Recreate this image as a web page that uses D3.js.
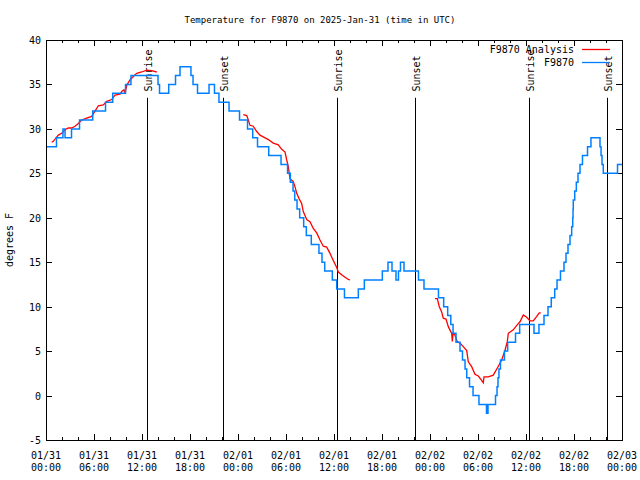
<!DOCTYPE html>
<html>
<head>
<meta charset="utf-8">
<script src="https://cdn.jsdelivr.net/npm/d3@7"></script>
<style>
  html, body { margin: 0; padding: 0; background: #fff; }
  svg { display: block; }
  text { font-family: "DejaVu Sans Mono", monospace; font-size: 10px; fill: #000; }
</style>
</head>
<body>
<svg id="chart" width="640" height="480"></svg>
<script>
// ---- data (hours since 2025-01-31 00:00 UTC) ----
const titleText = "Temperature for F9870 on 2025-Jan-31 (time in UTC)";
const yLabel = "degrees F";
const yTicks = [-5, 0, 5, 10, 15, 20, 25, 30, 35, 40];

// F9870 observations (stepped)
const obsHours = [0.00,1.31,2.12,2.38,3.19,4.19,5.84,7.44,8.34,9.94,10.62,14.0,14.19,15.34,16.19,16.75,18.12,18.38,18.94,20.38,21.06,21.62,22.88,24.19,25.19,25.84,26.44,27.84,29.38,30.19,30.54,30.88,31.09,31.38,31.71,32.21,32.54,33.16,34.12,34.5,34.84,35.79,36.34,37.31,39.04,39.79,42.04,42.75,43.25,43.75,44.06,44.31,44.75,46.56,47.25,49.06,49.71,50.21,50.6,50.88,51.25,51.75,52.06,52.38,52.59,52.94,53.38,54.12,55.06,55.25,56.19,56.38,56.5,56.62,56.81,57.31,57.71,58.69,59.21,61.0,61.62,62.25,62.75,63.16,63.59,63.88,64.31,64.75,65.0,65.25,65.5,65.71,65.84,65.88,65.91,66.09,66.29,66.5,66.75,67.06,67.69,68.12,69.25,69.38,69.5,69.66,71.44,72.0];
const obsTemps = [28,29,30,29,30,31,32,33,34,35,36,35,34,35,36,37,36,35,34,35,34,33,32,31,30,29,28,27,26,25,24,23,22,21,20,19,18,17,16,15,14,13,12,11,12,13,14,15,14,13,14,15,14,13,12,11,10,9,8,7,6,5,4,3,2,1,0,-1,-2,-1,0,1,2,3,4,5,6,7,8,7,8,9,10,11,12,13,14,15,16,17,18,19,20,21,22,23,24,25,26,27,28,29,28,27,26,25,26,26];

// F9870 Analysis (null = gap)
const anaHours = [0.71,0.91,1.54,1.96,2.38,2.79,3.21,3.62,4.04,4.46,5.09,5.71,6.12,6.54,7.16,7.59,8.21,8.62,9.25,9.46,9.75,9.88,10.09,10.5,10.91,11.34,11.96,12.59,13.21,13.84,
  null,
  24.66,25.09,25.29,25.5,25.91,26.34,26.75,27.16,27.79,28.41,29.04,29.46,29.88,30.09,30.29,30.5,30.91,31.12,31.34,31.66,31.96,32.16,32.59,33.0,33.41,33.84,34.25,34.66,35.09,35.5,35.91,36.34,36.54,36.96,37.38,37.79,38.0,
  null,
  48.62,48.91,49.16,49.46,49.66,50.0,50.29,50.71,50.79,50.88,51.12,51.41,51.75,52.16,52.59,52.79,53.21,53.62,54.04,54.38,54.66,54.75,55.29,55.91,56.54,56.96,57.38,57.66,57.79,58.41,58.84,59.25,59.66,60.09,60.5,60.91,61.34,61.66,61.84];
const anaTemps = [28.5,28.6,29.3,29.5,29.9,30.1,30.1,30.3,30.6,31.0,31.2,31.4,32.0,32.6,32.7,33.1,33.3,33.8,33.9,34.2,34.4,34.0,34.9,35.5,35.9,36.25,36.4,36.6,36.55,36.4,
  null,
  31.6,31.5,31.0,30.4,30.3,29.7,29.3,29.1,28.8,28.4,28.2,27.7,27.4,26.5,25.75,24.4,24.06,23.5,22.75,22.1,21.6,20.7,19.8,19.56,18.8,18.3,17.5,16.8,16.7,16.0,15.2,14.4,13.9,13.6,13.3,13.06,13.0,
  null,
  10.9,10.9,10.0,9.4,8.7,8.6,7.75,7.0,6.1,7.0,6.8,6.06,5.9,5.5,5.06,3.8,3.25,2.4,2.2,1.8,1.45,2.1,2.1,2.3,3.3,4.0,5.1,6.06,7.0,7.4,7.9,8.3,9.06,8.8,8.4,8.4,8.9,9.3,9.3];

// Sun events
const sunHours = [12.6, 22.1, 36.4, 46.1, 60.4, 70.1];
const sunLabels = ["Sunrise", "Sunset", "Sunrise", "Sunset", "Sunrise", "Sunset"];

const seriesNames = ["F9870 Analysis", "F9870"];
const seriesColors = ["#ff0000", "#0080ff"];

// ---- drawing ----
const startMs = Date.UTC(2025, 0, 31, 0, 0);
const toDate = h => new Date(startMs + h * 3600000);

const svg = d3.select("#chart");
const L = 46, R = 622, T = 40, B = 440;

const x = d3.scaleUtc()
  .domain([toDate(0), toDate(72)])
  .range([L, R]);
const y = d3.scaleLinear().domain([-5, 40]).range([B, T]);

// title
svg.append("text")
  .attr("x", 320).attr("y", 23)
  .attr("text-anchor", "middle")
  .style("font-size", "9px")
  .text(titleText);

// y label
svg.append("text")
  .attr("transform", `translate(13,${(T + B) / 2}) rotate(-90)`)
  .attr("text-anchor", "middle")
  .text(yLabel);

const g = svg.append("g");

// ticks
const majorTicks = d3.utcHour.every(6).range(toDate(0), toDate(72.01));
const minorTicks = d3.utcHour.every(2).range(toDate(0), toDate(72.01));
const fmtDay = d3.utcFormat("%m/%d");
const fmtTime = d3.utcFormat("%H:%M");

minorTicks.forEach(d => {
  const xx = Math.round(x(d)) + 0.5;
  g.append("line").attr("x1", xx).attr("x2", xx).attr("y1", B).attr("y2", B - 3).attr("stroke", "#000");
  g.append("line").attr("x1", xx).attr("x2", xx).attr("y1", T).attr("y2", T + 3).attr("stroke", "#000");
});
majorTicks.forEach(d => {
  const xx = Math.round(x(d)) + 0.5;
  g.append("line").attr("x1", xx).attr("x2", xx).attr("y1", B).attr("y2", B - 6).attr("stroke", "#000");
  g.append("line").attr("x1", xx).attr("x2", xx).attr("y1", T).attr("y2", T + 6).attr("stroke", "#000");
  const t = g.append("text").attr("text-anchor", "middle");
  t.append("tspan").attr("x", x(d)).attr("y", 459).text(fmtDay(d));
  t.append("tspan").attr("x", x(d)).attr("y", 471).text(fmtTime(d));
});

yTicks.forEach(v => {
  const yy = Math.round(y(v)) + 0.5;
  g.append("line").attr("x1", L).attr("x2", L + 6).attr("y1", yy).attr("y2", yy).attr("stroke", "#000");
  g.append("line").attr("x1", R).attr("x2", R - 6).attr("y1", yy).attr("y2", yy).attr("stroke", "#000");
  g.append("text").attr("x", 41).attr("y", y(v) + 4).attr("text-anchor", "end").text(v);
});

// sun lines
sunHours.forEach((h, i) => {
  const xx = Math.round(x(toDate(h))) + 0.5;
  g.append("line").attr("x1", xx).attr("x2", xx)
    .attr("y1", y(-5)).attr("y2", y(33.5))
    .attr("stroke", "#000").attr("stroke-width", 1);
  g.append("text")
    .attr("transform", `translate(${xx + 4},${y(34.2)}) rotate(-90)`)
    .attr("text-anchor", "start")
    .text(sunLabels[i]);
});

// series
const obs = obsHours.map((h, i) => [h, obsTemps[i]]);
const ana = anaHours.map((h, i) => [h, anaTemps[i]]);

const lineObs = d3.line()
  .x(d => x(toDate(d[0])))
  .y(d => y(d[1]))
  .curve(d3.curveStepAfter);
const lineAna = d3.line()
  .defined(d => d[0] !== null && d[1] !== null)
  .x(d => x(toDate(d[0])))
  .y(d => y(d[1]));

g.append("path").datum(ana).attr("d", lineAna)
  .attr("fill", "none").attr("stroke", seriesColors[0]).attr("stroke-width", 1.3);
g.append("path").datum(obs).attr("d", lineObs)
  .attr("fill", "none").attr("stroke", seriesColors[1]).attr("stroke-width", 1.5);

// frame
g.append("rect").attr("x", L + 0.5).attr("y", T + 0.5)
  .attr("width", R - L).attr("height", B - T)
  .attr("fill", "none").attr("stroke", "#000");

// legend
seriesNames.forEach((name, i) => {
  const ly = 49 + i * 13;
  svg.append("text").attr("x", 574).attr("y", ly + 4).attr("text-anchor", "end").text(name);
  svg.append("line").attr("x1", 582).attr("x2", 610).attr("y1", ly + 0.5).attr("y2", ly + 0.5)
    .attr("stroke", seriesColors[i]).attr("stroke-width", 1.3);
});
</script>
</body>
</html>
